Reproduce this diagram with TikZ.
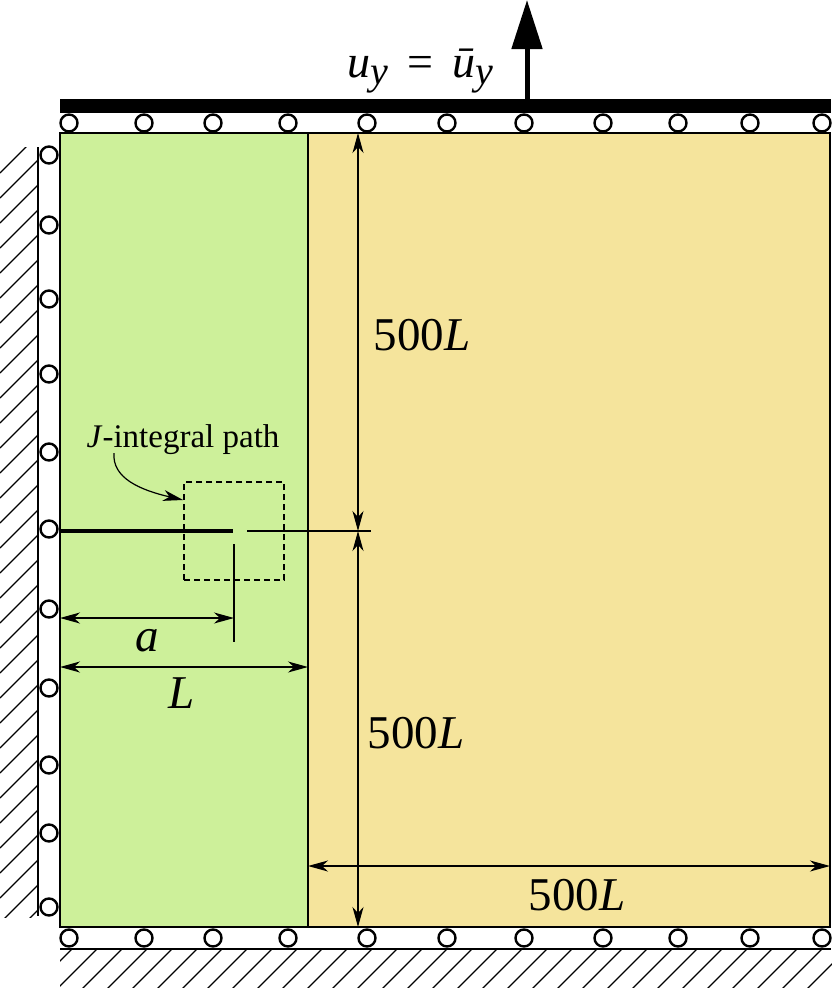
\documentclass[tikz,border=0pt]{standalone}
\usepackage{amsmath}
\usepackage{fontspec}
\setmainfont{Liberation Serif}
\usetikzlibrary{positioning, arrows.meta}

\definecolor{innergreen}{RGB}{205,240,154}
\definecolor{outersand}{RGB}{245,228,156}

\newcommand{\subY}{\raisebox{-7pt}{\fontsize{40}{42}\selectfont\textit{y}}}

\tikzset{
  roller/.style={circle, draw, fill=white, line width=2.4pt, minimum size=17pt, inner sep=0pt},
  dimline/.style={line width=1.2pt, {Stealth[length=20pt, width=11pt, inset=6pt]}-{Stealth[length=20pt, width=11pt, inset=6pt]}},
  hatchline/.style={line width=1.3pt},
  biglabel/.style={font=\fontsize{47}{50}\selectfont, inner sep=0pt, anchor=base},
}

\begin{document}
\begin{tikzpicture}[x=1pt, y=-1pt]
\useasboundingbox (0,0) rectangle (832,988);

% corners of the plate and the crack
\coordinate (pTL) at (60,133);
\coordinate (pTR) at (830,133);
\coordinate (pBL) at (60,927);
\coordinate (pBR) at (830,927);
\coordinate (sTop) at (308,133);
\coordinate (sBot) at (308,927);
\coordinate (crackMouth) at (60,531);
\coordinate (crackTip) at (233,531);

\fill[innergreen] (pTL) rectangle (sBot);
\fill[outersand] (sTop) rectangle (pBR);

% rigid bar and pull
\fill (60,99) rectangle (831,113);
\coordinate (pullFoot) at (527,99);
\coordinate (pullTip) at (527,0);
\draw[line width=5pt, -{Triangle[length=49pt, width=30pt]}] (pullFoot) -- (pullTip);
\node[anchor=base west, inner sep=0pt, font=\fontsize{46}{48}\selectfont] (load) at (347,77)
  {\textit{u}\subY\hspace{20pt}=\hspace{19pt}\textit{ū}\subY};

% ground and wall
\coordinate (gL) at (60,949);
\coordinate (gR) at (831,949);
\draw[line width=2.4pt] (gL) -- (gR);
\begin{scope}
  \clip (60,949) rectangle (832,988);
  \foreach \x in {72,97,...,897}
    \draw[hatchline] (\x,949) -- (\x-40,989);
\end{scope}
\coordinate (wT) at (38,147);
\coordinate (wB) at (38,916);
\draw[line width=2.4pt] (wT) -- (wB);
\begin{scope}
  \clip (0,147) rectangle (38,917);
  \foreach \y in {135,160,...,935}
    \draw[hatchline] (38,\y) -- (0,\y+38);
\end{scope}

% rollers
\foreach \x [count=\i] in {69,144,213,288,367,447,524,603,678,750,822}{
  \node[roller] (top\i) at (\x,123) {};
  \node[roller] (bot\i) at (\x,938) {};
}
\foreach \y [count=\i] in {155,225,299,374,452,529,609,688,765,833,907}
  \node[roller] (side\i) at (49,\y) {};

% dimensions
\coordinate (dTop) at (358,133);
\coordinate (dMid) at (358,531);
\coordinate (dBot) at (358,927);
\coordinate (extL) at (247,531);
\coordinate (extR) at (371,531);
\coordinate (tickT) at (234,544);
\coordinate (tickB) at (234,642);
\coordinate (aL) at (60,618);
\coordinate (aR) at (234,618);
\coordinate (lL) at (60,667);
\coordinate (lR) at (308,667);
\coordinate (wL) at (308,866);
\coordinate (wR) at (830,866);
\draw[line width=1.2pt] (extL) -- (extR);
\draw[line width=1.2pt] (tickT) -- (tickB);
\draw[dimline] (dTop) -- (dMid);
\draw[dimline] (dMid) -- (dBot);
\draw[dimline] (aL) -- (aR);
\draw[dimline] (lL) -- (lR);
\draw[dimline] (wL) -- (wR);
\node[biglabel] (hTop) at (422,350) {500\textit{L}};
\node[biglabel] (hBot) at (416,748) {500\textit{L}};
\node[biglabel] (wid) at (577,910) {500\textit{L}};
\node[biglabel] (alab) at (147,651) {\textit{a}};
\node[biglabel] (llab) at (182,708) {\textit{L}};

% crack and J-integral contour
\draw[line width=4pt] (crackMouth) -- (crackTip);
\node[draw, line width=1.8pt, dash pattern=on 6pt off 4pt, minimum width=100pt, minimum height=98pt] (jpath) at (234,531) {};
\node[anchor=base, inner sep=0pt, font=\fontsize{33}{36}\selectfont] (jlab) at (183,447) {\textit{J}-integral path};
\draw[line width=1.2pt, -{Stealth[length=20pt, width=11pt, inset=6pt]}]
  (114,453) .. controls (112,478) and (140,490) .. (jpath.west |- 0,500);

% outline
\draw[line width=2.5pt] (pTL) rectangle (pBR);
\draw[line width=2pt] (sTop) -- (sBot);
\end{tikzpicture}
\end{document}
